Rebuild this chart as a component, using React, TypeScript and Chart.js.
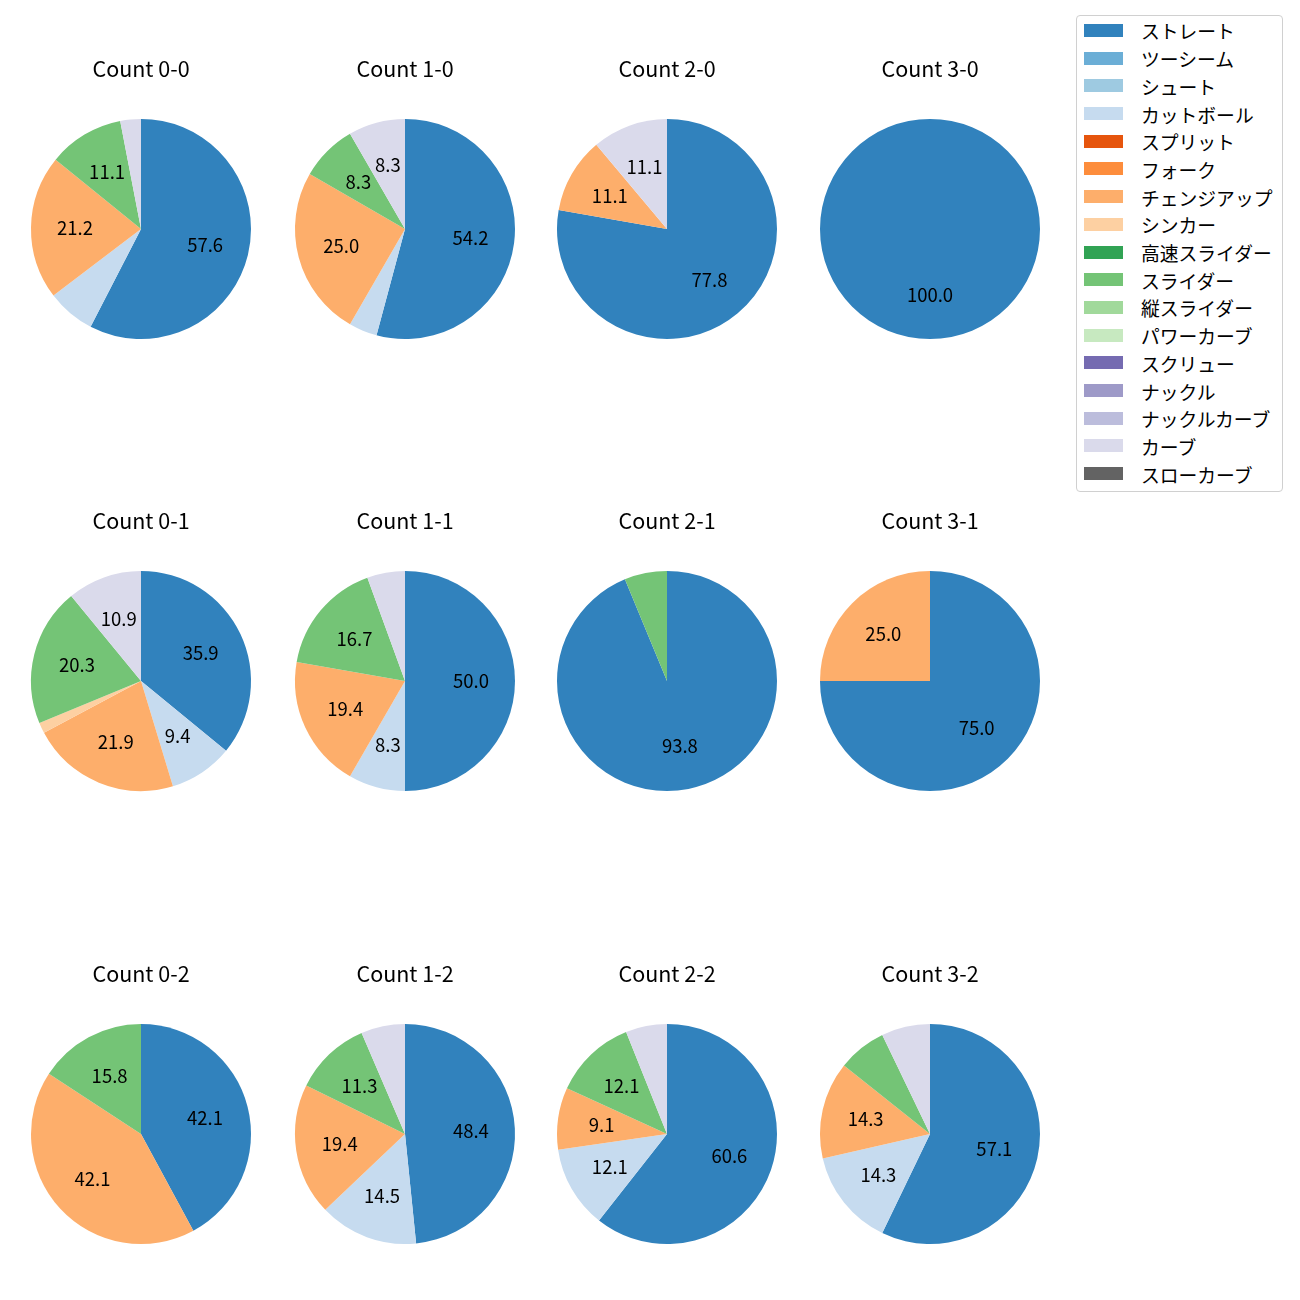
import React, { useEffect, useRef } from "react";
import { Chart, registerables } from "chart.js";

Chart.register(...registerables);

const pitchTypes = [
  "ストレート", "ツーシーム", "シュート", "カットボール", "スプリット", "フォーク",
  "チェンジアップ", "シンカー", "高速スライダー", "スライダー", "縦スライダー",
  "パワーカーブ", "スクリュー", "ナックル", "ナックルカーブ", "カーブ", "スローカーブ",
];

const pitchColors = [
  "#3182bd", "#6baed6", "#9ecae1", "#c6dbef", "#e6550d", "#fd8d3c",
  "#fdae6b", "#fdd0a2", "#31a354", "#74c476", "#a1d99b",
  "#c7e9c0", "#756bb1", "#9e9ac8", "#bcbddc", "#dadaeb", "#636363",
];

// pitch counts per ball-strike count, in pitchTypes order
const count00 = [57, 0, 0, 7, 0, 0, 21, 0, 0, 11, 0, 0, 0, 0, 0, 3, 0];
const count10 = [13, 0, 0, 1, 0, 0, 6, 0, 0, 2, 0, 0, 0, 0, 0, 2, 0];
const count20 = [7, 0, 0, 0, 0, 0, 1, 0, 0, 0, 0, 0, 0, 0, 0, 1, 0];
const count30 = [4, 0, 0, 0, 0, 0, 0, 0, 0, 0, 0, 0, 0, 0, 0, 0, 0];
const count01 = [23, 0, 0, 6, 0, 0, 14, 1, 0, 13, 0, 0, 0, 0, 0, 7, 0];
const count11 = [18, 0, 0, 3, 0, 0, 7, 0, 0, 6, 0, 0, 0, 0, 0, 2, 0];
const count21 = [15, 0, 0, 0, 0, 0, 0, 0, 0, 1, 0, 0, 0, 0, 0, 0, 0];
const count31 = [3, 0, 0, 0, 0, 0, 1, 0, 0, 0, 0, 0, 0, 0, 0, 0, 0];
const count02 = [8, 0, 0, 0, 0, 0, 8, 0, 0, 3, 0, 0, 0, 0, 0, 0, 0];
const count12 = [30, 0, 0, 9, 0, 0, 12, 0, 0, 7, 0, 0, 0, 0, 0, 4, 0];
const count22 = [20, 0, 0, 4, 0, 0, 3, 0, 0, 4, 0, 0, 0, 0, 0, 2, 0];
const count32 = [8, 0, 0, 2, 0, 0, 2, 0, 0, 1, 0, 0, 0, 0, 0, 1, 0];

const panelTitles = [
  "Count 0-0", "Count 1-0", "Count 2-0", "Count 3-0",
  "Count 0-1", "Count 1-1", "Count 2-1", "Count 3-1",
  "Count 0-2", "Count 1-2", "Count 2-2", "Count 3-2",
];
const panelData = [
  count00, count10, count20, count30,
  count01, count11, count21, count31,
  count02, count12, count22, count32,
];

const colCenters = [141, 405, 667, 930];
const rowCenters = [229, 681, 1134];
const RADIUS = 110;
const FONT = "'Noto Sans CJK JP', 'Noto Sans', sans-serif";
const TITLE_SIZE = 21.5;
const LABEL_SIZE = 18.5;
const LEGEND_SIZE = 18.8;

const pctLabelPlugin = {
  id: "pctLabels",
  afterDatasetsDraw(chart: any) {
    const meta = chart.getDatasetMeta(0);
    const data = chart.data.datasets[0].data as number[];
    const total = data.reduce((a, b) => a + b, 0);
    const ctx = chart.ctx;
    ctx.save();
    ctx.fillStyle = "#000";
    ctx.font = `${LABEL_SIZE}px ${FONT}`;
    ctx.textAlign = "center";
    ctx.textBaseline = "middle";
    meta.data.forEach((arc: any, i: number) => {
      const pct = (data[i] / total) * 100;
      if (pct < 8) return;
      const p = arc.getProps(["x", "y", "startAngle", "endAngle", "outerRadius"], true);
      const mid = (p.startAngle + p.endAngle) / 2;
      const r = p.outerRadius * 0.6;
      ctx.fillText(pct.toFixed(1), p.x + Math.cos(mid) * r, p.y + Math.sin(mid) * r);
    });
    ctx.restore();
  },
};

function PiePanel({ title, data, cx, cy }: { title: string; data: number[]; cx: number; cy: number }) {
  const ref = useRef<HTMLCanvasElement | null>(null);
  useEffect(() => {
    if (!ref.current) return;
    const lh = TITLE_SIZE * 1.2;
    const padTop = 20 - lh / 2;
    const padBottom = 70 - padTop - lh;
    const chart = new Chart(ref.current, {
      type: "pie",
      data: {
        labels: pitchTypes,
        datasets: [{ data, backgroundColor: pitchColors, borderWidth: 0 }],
      },
      options: {
        responsive: false,
        animation: false,
        devicePixelRatio: 1,
        layout: { padding: { left: 20, right: 20, top: 0, bottom: 10 } },
        plugins: {
          legend: { display: false },
          tooltip: { enabled: false },
          title: {
            display: true,
            text: title,
            color: "#000",
            font: { family: FONT, size: TITLE_SIZE, weight: "normal", lineHeight: 1.2 },
            padding: { top: padTop, bottom: padBottom },
          },
        },
      },
      plugins: [pctLabelPlugin],
    });
    return () => chart.destroy();
  }, [title, data]);
  return (
    <canvas
      ref={ref}
      width={260}
      height={300}
      style={{ position: "absolute", left: cx - 130, top: cy - RADIUS - 70, width: 260, height: 300 }}
    />
  );
}

export default function App() {
  return (
    <div style={{ position: "fixed", left: 0, top: 0, width: 1300, height: 1300, background: "#fff", overflow: "hidden" }}>
      {panelData.map((d, i) => (
        <PiePanel
          key={i}
          title={panelTitles[i]}
          data={d}
          cx={colCenters[i % 4]}
          cy={rowCenters[Math.floor(i / 4)]}
        />
      ))}
      <div
        style={{
          position: "absolute",
          left: 1076,
          top: 15,
          width: 205,
          height: 475,
          border: "1px solid #d0d0d0",
          borderRadius: 4,
          background: "#fff",
          boxSizing: "content-box",
        }}
      >
        {pitchTypes.map((name, i) => (
          <div key={name} style={{ position: "absolute", left: 0, top: 14.4 + i * 27.7 - 14, height: 28, width: 205 }}>
            <div
              style={{
                position: "absolute",
                left: 7,
                top: 7.5,
                width: 39,
                height: 13,
                background: pitchColors[i],
              }}
            />
            <div
              style={{
                position: "absolute",
                left: 64,
                top: 1,
                height: 28,
                lineHeight: "28px",
                fontFamily: FONT,
                fontSize: LEGEND_SIZE,
                color: "#000",
                whiteSpace: "nowrap",
              }}
            >
              {name}
            </div>
          </div>
        ))}
      </div>
    </div>
  );
}
